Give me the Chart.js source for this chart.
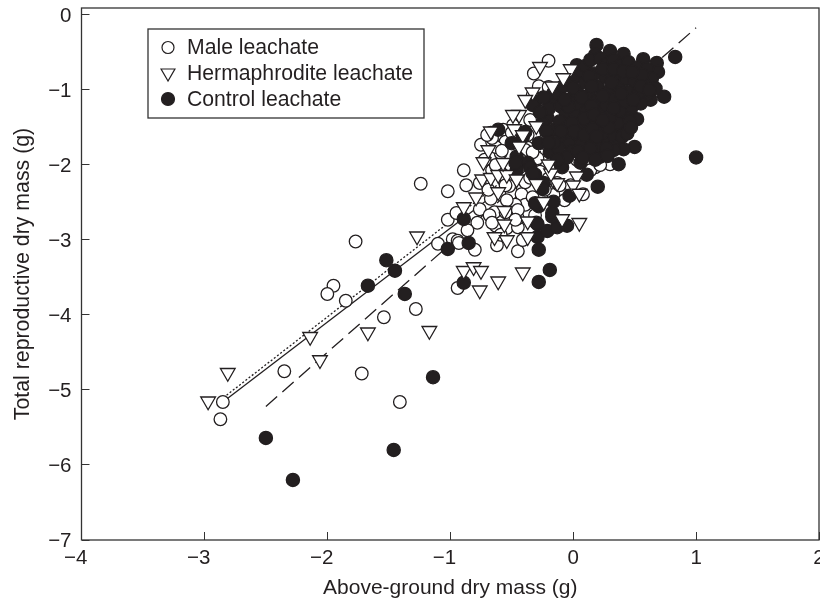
<!DOCTYPE html>
<html>
<head>
<meta charset="utf-8">
<style>
  html, body { margin: 0; padding: 0; background: #fff; overflow: hidden; }
  canvas { display: block; }
</style>
<script src="https://cdn.jsdelivr.net/npm/chart.js@4"></script>
</head>
<body>
<canvas id="massChart" width="820" height="601"></canvas>
<script>
const xTicks = [-4, -3, -2, -1, 0, 1, 2];
const yTicks = [-7, -6, -5, -4, -3, -2, -1, 0];
const seriesNames = ['Male leachate', 'Hermaphrodite leachate', 'Control leachate'];

const malePoints = [
  [-2.85,-5.16],[-2.87,-5.39],[-2.35,-4.75],[-1.72,-4.78],[-1.41,-5.16],[-1.54,-4.03],[-1.28,-3.92],
  [-1.95,-3.61],[-2.0,-3.72],[-1.85,-3.81],[-0.94,-3.64],[-1.77,-3.02],[-1.24,-2.25],[-0.89,-2.07],
  [-1.02,-2.35],[-0.87,-2.27],[-1.02,-2.73],[-0.95,-2.64],[-0.78,-2.77],[-0.86,-2.87],[-1.10,-3.05],
  [-0.98,-2.99],[-0.94,-3.01],[-0.93,-3.04],[-0.80,-3.13],[-0.45,-3.15],[-0.62,-3.07],[-0.76,-2.59],
  [-0.64,-2.63],[-0.67,-2.45],[-0.76,-2.24],[-0.50,-2.37],[-0.42,-2.39],[-0.39,-2.53],[-0.47,-2.53],
  [-0.54,-2.47],[-0.68,-2.67],[-0.63,-2.81],[-0.54,-2.84],[-0.45,-2.83],[-0.45,-2.71],[-0.59,-1.84],
  [-0.29,-1.91],[-0.39,-2.23],[-0.33,-2.43],[-0.16,-2.40],[0.08,-2.39],[0.30,-1.99],[0.03,-1.93],
  [-0.13,-2.24],[-0.20,-0.61],[-0.32,-0.78],[-0.28,-0.95],[-0.20,-0.96],[-0.33,-1.07],[-0.28,-1.13],
  [-0.35,-1.40],[-0.49,-1.47],[-0.75,-1.73],[-0.66,-1.69],[-0.57,-1.53],[-0.67,-1.57],[-0.55,-1.69],
  [-0.63,-1.76],[-0.43,-1.67],[-0.37,-1.60],[-0.37,-1.77],[-0.66,-1.64],[-0.70,-1.60],[-0.58,-1.81],
  [-0.66,-2.07],[-0.63,-2.0],[-0.57,-2.13],[-0.66,-2.77],[-0.55,-2.63],[-0.45,-2.60],[-0.39,-1.80],
  [-0.33,-1.83],[-0.50,-1.57],[-0.27,-2.09],[0.18,-2.03],[-0.02,-2.27],[-0.20,-2.18],[-0.52,-2.28],
  [-0.72,-1.93],[-0.51,-2.0],[-0.35,-2.17],[-0.55,-2.27],[-0.69,-2.33],[-0.47,-2.73],[-0.31,-2.67],
  [-0.23,-2.33],[-0.59,-2.93],[-0.41,-3.0],[-0.43,-1.93],[-0.23,-1.67],[-0.11,-2.27],[0.14,-2.07],
  [0.22,-2.0],[-0.07,-2.47]
];

const hermaPoints = [
  [-2.81,-4.77],[-2.97,-5.15],[-2.14,-4.29],[-2.06,-4.60],[-1.67,-4.23],[-1.17,-4.21],[-1.27,-2.95],
  [-0.89,-3.41],[-0.81,-3.36],[-0.75,-3.41],[-0.61,-3.55],[-0.76,-3.67],[-0.41,-3.43],[-0.64,-2.96],
  [-0.54,-3.0],[-0.37,-2.96],[-0.56,-2.79],[-0.37,-2.75],[-0.09,-2.72],[0.05,-2.77],[-0.89,-2.56],
  [-0.79,-2.43],[-0.74,-2.19],[-0.67,-2.17],[-0.61,-2.36],[-0.61,-2.13],[-0.54,-2.13],[-0.46,-2.19],
  [-0.56,-2.61],[-0.24,-2.49],[-0.13,-2.24],[-0.18,-2.11],[-0.20,-1.99],[0.03,-2.15],[0.0,-2.27],
  [0.05,-2.38],[-0.73,-1.96],[-0.27,-0.69],[-0.02,-0.72],[-0.08,-0.84],[-0.17,-0.95],[-0.33,-1.03],
  [-0.39,-1.13],[-0.44,-1.33],[-0.49,-1.33],[-0.48,-1.52],[-0.67,-1.55],[-0.41,-1.60],[-0.57,-1.97],
  [-0.44,-1.75],[-0.30,-1.48],[-0.69,-1.80],[-0.30,-2.25]
];

const controlPoints = [
  [-2.50,-5.64],[-2.28,-6.20],[-1.46,-5.80],[-1.14,-4.83],[-1.67,-3.61],[-1.45,-3.41],[-1.52,-3.27],
  [-1.37,-3.72],[-0.89,-3.57],[-1.02,-3.12],[-0.85,-3.04],[-0.89,-2.72],[-0.28,-3.13],[-0.28,-3.56],
  [-0.19,-3.40],[-0.29,-2.96],[-0.29,-2.79],[-0.21,-2.88],[-0.13,-2.83],[-0.05,-2.81],[-0.17,-2.69],
  [1.0,-1.90],[0.83,-0.56],[0.19,-0.40],[0.30,-0.48],[0.41,-0.52],[0.57,-0.59],[0.68,-0.64],[0.69,-0.76],
  [0.74,-1.09],[0.63,-1.13],[0.52,-1.39],[0.37,-1.53],[0.34,-1.69],[0.50,-1.76],[0.41,-1.79],[0.37,-1.99],
  [0.03,-0.67],[0.18,-0.53],[-0.15,-1.16],[-0.31,-1.16],[-0.21,-1.37],[-0.16,-1.53],[-0.28,-1.71],
  [-0.50,-1.71],[-0.41,-1.63],[-0.46,-1.89],[-0.61,-1.53],[-0.19,-1.83],[-0.37,-1.97],[-0.09,-2.03],
  [-0.46,-2.07],[-0.35,-2.03],[-0.47,-1.97],[-0.31,-2.13],[-0.24,-2.24],[-0.25,-2.32],[-0.16,-2.49],
  [-0.28,-2.55],[-0.03,-2.41],[0.20,-2.29],[0.11,-2.13],[-0.10,-2.0],[0.06,-1.97],[0.10,-1.84],[0.22,-1.89],
  [-0.31,-2.51],[-0.33,-2.11],[0.16,-1.84],[0.33,-1.80],[-0.17,-2.64],[-0.33,-1.20],[-0.30,-2.77],
  [-0.39,-1.56],[-0.16,-1.04],[-0.20,-1.25],[-0.25,-1.45],
  [-0.12,-1.05],[-0.08,-0.95],[-0.03,-0.88],[0.02,-0.82],[0.06,-0.74],[0.10,-0.68],[0.14,-0.60],[0.22,-0.58],
  [0.27,-0.66],[0.33,-0.60],[0.39,-0.67],[0.45,-0.63],[0.52,-0.70],[0.60,-0.72],[0.64,-0.85],[0.58,-0.93],
  [0.67,-0.98],[0.60,-1.06],[0.55,-1.18],[0.47,-1.25],[0.44,-1.38],[0.36,-1.44],[0.31,-1.60],[0.24,-1.68],
  [0.19,-1.75],[0.27,-1.78],[-0.10,-1.22],[-0.06,-1.31],[-0.11,-1.42],[-0.05,-1.50],[-0.08,-1.63],
  [-0.03,-1.72],[-0.12,-1.78],[-0.02,-1.12],[0.03,-1.02],[0.05,-1.20],[0.02,-1.35],[0.06,-1.47],[0.04,-1.60],
  [0.07,-1.72],[0.10,-0.90],[0.13,-1.07],[0.11,-1.28],[0.14,-1.40],[0.12,-1.55],[0.15,-1.65],[0.17,-0.78],
  [0.20,-0.95],[0.19,-1.15],[0.22,-1.30],[0.20,-1.46],[0.23,-1.58],[0.26,-0.82],[0.29,-1.02],[0.27,-1.20],
  [0.30,-1.36],[0.29,-1.50],[0.35,-0.80],[0.37,-0.95],[0.34,-1.12],[0.38,-1.27],[0.43,-0.85],[0.46,-1.02],
  [0.42,-1.15],[0.50,-0.88],[0.53,-1.04],[0.56,-0.80],
  [0.00,-0.97],[0.07,-1.10],[-0.04,-1.22],[0.09,-1.38],[-0.01,-1.44],[0.01,-1.55],[0.09,-1.60],[-0.01,-1.82],
  [0.15,-1.22],[0.17,-1.33],[0.16,-1.52],[0.19,-1.62],[0.13,-0.82],[0.15,-0.95],[0.24,-0.72],[0.24,-1.08],
  [0.24,-1.40],[0.33,-0.72],[0.31,-0.90],[0.33,-1.24],[0.39,-1.05],[0.41,-0.75],[0.48,-0.76],[0.49,-1.13],
  [0.55,-0.95],[-0.07,-1.13],[-0.10,-1.55],[-0.16,-1.70],[-0.22,-1.55],[-0.27,-1.30],[-0.24,-1.10],[-0.20,-1.70],
  [-0.05,-1.90],[0.04,-1.82],[0.14,-1.78],[-0.13,-1.93],[0.08,-1.90],[0.18,-1.93],[0.28,-1.88],
  [0.62,-1.0],[0.46,-1.42],[0.40,-1.62],[0.44,-1.58],[0.47,-1.50]
];

// fitted lines, end points only
const maleFit = [[-2.85,-5.16],[0,-1.59]];
const hermaFit = [[-2.82,-5.07],[0,-1.48]];
const controlFit = [[-2.5,-5.22],[1,-0.17]];

const INK = '#231f20';
const LINE = '#333333';
const FONT = '"Liberation Sans", Arial, sans-serif';

const toXY = pts => pts.map(p => ({ x: p[0], y: p[1] }));
const minusLabel = v => (v < 0 ? '\u2212' + Math.abs(v) : String(v));
// figure space after the negatives keeps the digit over the tick, as in the original
const minusLabelX = v => (v < 0 ? minusLabel(v) + '\u2007' : String(v));

const pointSet = (i, pts, style, radius, fill, order) => ({
  label: seriesNames[i],
  data: toXY(pts),
  order: order,
  pointStyle: style,
  rotation: style === 'triangle' ? 180 : 0,
  pointRadius: radius,
  pointBackgroundColor: fill,
  pointBorderColor: INK,
  pointBorderWidth: 1.3,
  showLine: false
});

const fitLine = (pts, dash) => ({
  data: toXY(pts),
  order: 5,
  showLine: true,
  pointRadius: 0,
  borderColor: INK,
  borderWidth: 1.3,
  borderDash: dash
});

// pin the plot area, the layout would otherwise pull the right edge in for the "2" label
const pinPlotArea = {
  id: 'pinPlotArea',
  afterLayout(chart) {
    const box = { left: 81.5, top: 8, right: 819, bottom: 540 };
    const { x, y } = chart.scales;
    Object.assign(x, { left: box.left, right: box.right, top: box.bottom, bottom: 601, width: box.right - box.left, height: 61 });
    Object.assign(y, { left: 0, right: box.left, top: box.top, bottom: box.bottom, width: box.left, height: box.bottom - box.top });
    x.configure();
    y.configure();
    chart.chartArea = { ...box, width: box.right - box.left, height: box.bottom - box.top };
  }
};

const frameAndLegend = {
  id: 'frameAndLegend',
  afterDraw(chart) {
    const { ctx, chartArea: a } = chart;
    ctx.save();
    ctx.strokeStyle = LINE;
    ctx.lineWidth = 1.3;
    ctx.strokeRect(a.left, a.top, a.right - a.left, a.bottom - a.top);

    ctx.fillStyle = '#fff';
    ctx.fillRect(148, 29, 276, 89);
    ctx.strokeRect(148, 29, 276, 89);

    const rowY = [47.5, 73, 99];
    const marks = [
      { pointStyle: 'circle', radius: 6, rotation: 0, borderWidth: 1.2, fill: '#fff' },
      { pointStyle: 'triangle', radius: 8, rotation: 180, borderWidth: 1.2, fill: '#fff' },
      { pointStyle: 'circle', radius: 6.5, rotation: 0, borderWidth: 1.2, fill: INK }
    ];
    ctx.font = '21.2px ' + FONT;
    ctx.textBaseline = 'middle';
    seriesNames.forEach((name, i) => {
      ctx.fillStyle = marks[i].fill;
      ctx.strokeStyle = INK;
      ctx.lineWidth = 1.2;
      Chart.helpers.drawPoint(ctx, marks[i], 168, rowY[i]);
      ctx.fillStyle = INK;
      ctx.fillText(name, 187, rowY[i] + 1);
    });
    ctx.restore();
  }
};

new Chart(document.getElementById('massChart').getContext('2d'), {
  type: 'scatter',
  data: {
    datasets: [
      fitLine(maleFit, []),
      fitLine(hermaFit, [2, 2]),
      fitLine(controlFit, [15, 7]),
      pointSet(0, malePoints, 'circle', 6.3, '#fff', 3),
      pointSet(2, controlPoints, 'circle', 6.6, INK, 2),
      pointSet(1, hermaPoints, 'triangle', 8.5, '#fff', 1)
    ]
  },
  plugins: [pinPlotArea, frameAndLegend],
  options: {
    responsive: false,
    animation: false,
    plugins: { legend: { display: false }, tooltip: { enabled: false } },
    scales: {
      x: {
        min: -4,
        max: 2,
        afterBuildTicks: s => { s.ticks = xTicks.map(v => ({ value: v })); },
        border: { display: false },
        grid: { drawOnChartArea: false, drawTicks: true, tickLength: -8, color: LINE },
        ticks: {
          autoSkip: false,
          maxRotation: 0,
          padding: 14,
          color: INK,
          font: { family: FONT, size: 20.5 },
          callback: minusLabelX
        },
        title: {
          display: true,
          text: 'Above-ground dry mass (g)',
          color: INK,
          font: { family: FONT, size: 21 },
          padding: 0
        }
      },
      y: {
        min: -7,
        max: 0.093,
        afterBuildTicks: s => { s.ticks = yTicks.map(v => ({ value: v })); },
        border: { display: false },
        grid: { drawOnChartArea: false, drawTicks: true, tickLength: -8, color: LINE },
        ticks: {
          autoSkip: false,
          padding: 18,
          labelOffset: 1,
          color: INK,
          font: { family: FONT, size: 20.5 },
          callback: minusLabel
        },
        title: {
          display: true,
          text: 'Total reproductive dry mass (g)',
          color: INK,
          font: { family: FONT, size: 21.3 },
          padding: { top: 10, bottom: 0 }
        }
      }
    }
  }
});
</script>
</body>
</html>
